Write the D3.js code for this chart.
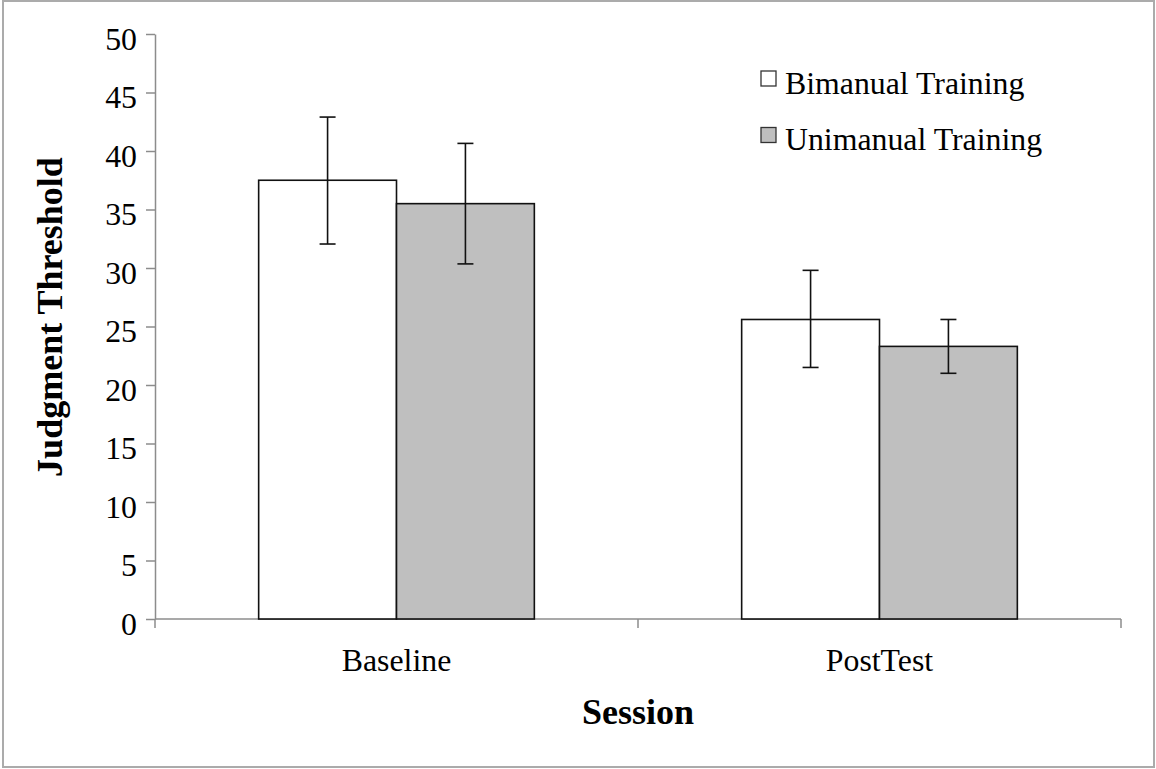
<!DOCTYPE html>
<html><head><meta charset="utf-8">
<script src="https://cdn.jsdelivr.net/npm/d3@7"></script>
<style>
html,body{margin:0;padding:0;background:#fff;}
svg{display:block;}
text{font-family:"Liberation Serif","Times New Roman",serif;fill:#000;}
</style></head>
<body>
<svg id="chart" width="1156" height="769"></svg>
<script>
const sessions = ["Baseline", "PostTest"];
const seriesNames = ["Bimanual Training", "Unimanual Training"];
const seriesColors = ["#ffffff", "#bfbfbf"];
const bimanualMean = [37.5, 25.6];
const bimanualLow = [32.05, 21.5];
const bimanualHigh = [42.9, 29.8];
const unimanualMean = [35.5, 23.3];
const unimanualLow = [30.35, 21.0];
const unimanualHigh = [40.65, 25.6];
const yTicks = [0, 5, 10, 15, 20, 25, 30, 35, 40, 45, 50];
const yTitle = "Judgment Threshold";
const xTitle = "Session";

(function () {
const means = [bimanualMean, unimanualMean];
const lows = [bimanualLow, unimanualLow];
const highs = [bimanualHigh, unimanualHigh];

const svg = d3.select("#chart");
const pLeft = 155, pRight = 1121, pTop = 34, pBottom = 619;
const fs = 31.8;

// frame
svg.append("rect").attr("x", 3).attr("y", 1).attr("width", 1151).attr("height", 766)
  .attr("fill", "none").attr("stroke", "#ababab").attr("stroke-width", 2);

const x0 = d3.scaleBand().domain(sessions).range([pLeft, pRight]).padding(0);
const x1 = d3.scaleBand().domain(seriesNames).range([0, x0.bandwidth()]).paddingInner(0).paddingOuter(0.752);
const y = d3.scaleLinear().domain([0, 50]).range([pBottom, pTop]);

// y axis
const yAxis = svg.append("g").attr("transform", `translate(${pLeft},0)`)
  .call(d3.axisLeft(y).tickValues(yTicks).tickSize(9).tickSizeOuter(0).tickPadding(9));
yAxis.selectAll("path,line").attr("stroke", "#8c8c8c").attr("stroke-width", 1.5);
yAxis.selectAll("text").attr("font-size", fs).attr("dy", "0.48em")
  .attr("font-family", "'Liberation Serif','Times New Roman',serif").attr("fill", "#000");

// x axis line + ticks at band edges
svg.append("line").attr("x1", pLeft).attr("x2", pRight).attr("y1", pBottom).attr("y2", pBottom)
  .attr("stroke", "#8c8c8c").attr("stroke-width", 1.5);
const edges = sessions.map(s => x0(s)).concat([x0(sessions[sessions.length - 1]) + x0.step()]);
svg.selectAll(".xtick").data(edges).enter().append("line")
  .attr("x1", d => d).attr("x2", d => d).attr("y1", pBottom).attr("y2", pBottom + 9)
  .attr("stroke", "#8c8c8c").attr("stroke-width", 1.5);
svg.selectAll(".xlab").data(sessions).enter().append("text")
  .attr("x", d => x0(d) + x0.bandwidth() / 2).attr("y", 671)
  .attr("text-anchor", "middle").attr("font-size", fs).text(d => d);

// bars
const data = [];
sessions.forEach((s, i) => seriesNames.forEach((n, j) => {
  data.push({s, n, j, v: means[j][i], lo: lows[j][i], hi: highs[j][i]});
}));
svg.selectAll(".bar").data(data).enter().append("rect")
  .attr("x", d => x0(d.s) + x1(d.n))
  .attr("y", d => y(d.v))
  .attr("width", x1.bandwidth())
  .attr("height", d => y(0) - y(d.v))
  .attr("fill", d => seriesColors[d.j])
  .attr("stroke", "#111").attr("stroke-width", 1.6);

// error bars
const cap = 8;
const cx = d => x0(d.s) + x1(d.n) + x1.bandwidth() / 2;
const eb = svg.selectAll(".eb").data(data).enter().append("g");
eb.append("line").attr("x1", cx).attr("x2", cx)
  .attr("y1", d => y(d.lo)).attr("y2", d => y(d.hi));
eb.append("line").attr("x1", d => cx(d) - cap).attr("x2", d => cx(d) + cap)
  .attr("y1", d => y(d.hi)).attr("y2", d => y(d.hi));
eb.append("line").attr("x1", d => cx(d) - cap).attr("x2", d => cx(d) + cap)
  .attr("y1", d => y(d.lo)).attr("y2", d => y(d.lo));
eb.selectAll("line").attr("stroke", "#111").attr("stroke-width", 1.6);

// axis titles
svg.append("text").attr("transform", "translate(62,317) rotate(-90)")
  .attr("text-anchor", "middle").attr("font-size", 36).attr("font-weight", "bold").text(yTitle);
svg.append("text").attr("x", 638).attr("y", 724)
  .attr("text-anchor", "middle").attr("font-size", 36).attr("font-weight", "bold").text(xTitle);

// legend
const lg = svg.selectAll(".lg").data(seriesNames).enter().append("g")
  .attr("transform", (d, i) => `translate(761,${71 + i * 56.5})`);
lg.append("rect").attr("width", 15).attr("height", 15)
  .attr("fill", (d, i) => seriesColors[i]).attr("stroke", "#333").attr("stroke-width", 1.3);
lg.append("text").attr("x", 24).attr("y", 22.5).attr("font-size", fs).text(d => d);
})();
</script>
</body></html>
